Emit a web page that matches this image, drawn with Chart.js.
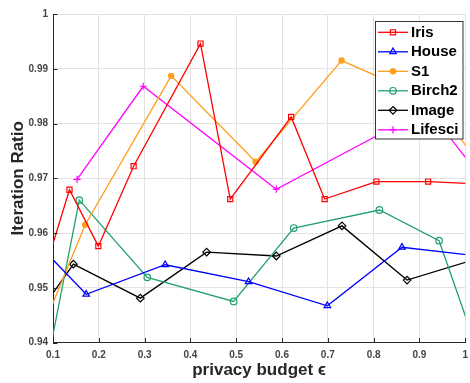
<!DOCTYPE html>
<html>
<head>
<meta charset="utf-8">
<script src="https://cdn.jsdelivr.net/npm/chart.js@4.4.1/dist/chart.umd.min.js"></script>
<style>
  html, body { margin: 0; padding: 0; background: #ffffff; overflow: hidden; }
  #wrap { width: 470px; height: 383px; overflow: hidden; position: relative; }
  canvas { display: block; }
</style>
</head>
<body>
<div id="wrap"><canvas id="chart" width="475" height="383"></canvas></div>
<script>
// Axis ticks
const xTickValues = [0.1, 0.2, 0.3, 0.4, 0.5, 0.6, 0.7, 0.8, 0.9, 1.0];
const xTickLabels = ['0.1', '0.2', '0.3', '0.4', '0.5', '0.6', '0.7', '0.8', '0.9', '1'];
const yTickValues = [0.94, 0.95, 0.96, 0.97, 0.98, 0.99, 1.0];
const yTickLabels = ['0.94', '0.95', '0.96', '0.97', '0.98', '0.99', '1'];

// Series (privacy budget epsilon -> iteration ratio)
const seriesNames = ['Iris', 'House', 'S1', 'Birch2', 'Image', 'Lifesci'];

const irisEps = [0.07, 0.136, 0.199, 0.276, 0.422, 0.487, 0.62, 0.693, 0.806, 0.919, 1.10];
const irisRatio = [0.9499, 0.9679, 0.9576, 0.9722, 0.9946, 0.9662, 0.9812, 0.9662, 0.9694, 0.9694, 0.9687];

const houseEps = [0.0, 0.1725, 0.345, 0.527, 0.699, 0.862, 1.04];
const houseRatio = [0.9638, 0.9488, 0.9542, 0.9511, 0.9467, 0.9574, 0.9557];

const s1Eps = [-0.02, 0.1703, 0.358, 0.5424, 0.730, 0.934, 1.12];
const s1Ratio = [0.9228, 0.9615, 0.9887, 0.9730, 0.9915, 0.9840, 0.9617];

const birch2Eps = [0.0, 0.1574, 0.3058, 0.4944, 0.6256, 0.8127, 0.943, 1.12];
const birch2Ratio = [0.8986, 0.9660, 0.9519, 0.9475, 0.9609, 0.9642, 0.9586, 0.9161];

const imageEps = [0.0, 0.1445, 0.2907, 0.4355, 0.5875, 0.731, 0.873, 1.05];
const imageRatio = [0.9371, 0.9543, 0.9481, 0.9565, 0.9558, 0.9613, 0.9514, 0.9559];

const lifesciEps = [0.1525, 0.297, 0.5875, 0.918, 1.15];
const lifesciRatio = [0.9698, 0.9868, 0.9680, 0.9827, 0.9576];

const FONT = "'Liberation Sans', Arial, Helvetica, sans-serif";

function pts(xs, ys) { return xs.map((x, i) => ({ x: x, y: ys[i] })); }

const styles = [
  { color: '#ff0000', shape: 'rect',     r: 3.6, fill: false },
  { color: '#0000ff', shape: 'triangle', r: 3.8, fill: false },
  { color: '#ff9f1c', shape: 'circle',   r: 2.6, fill: true  },
  { color: '#23a070', shape: 'circle',   r: 3.3, fill: false },
  { color: '#000000', shape: 'rectRot',  r: 3.8, fill: false },
  { color: '#ff00ff', shape: 'cross',    r: 3.6, fill: false }
];

const seriesData = [
  pts(irisEps, irisRatio),
  pts(houseEps, houseRatio),
  pts(s1Eps, s1Ratio),
  pts(birch2Eps, birch2Ratio),
  pts(imageEps, imageRatio),
  pts(lifesciEps, lifesciRatio)
];

const datasets = seriesNames.map((name, i) => ({
  label: name,
  data: seriesData[i],
  borderColor: styles[i].color,
  backgroundColor: 'rgba(255,255,255,0)',
  borderWidth: 1.3,
  pointStyle: styles[i].shape,
  pointRadius: styles[i].r,
  pointHoverRadius: styles[i].r,
  pointBorderWidth: 1.2,
  pointBorderColor: styles[i].color,
  pointBackgroundColor: styles[i].fill ? styles[i].color : 'rgba(255,255,255,0)',
  tension: 0,
  clip: 0
}));

// Marker drawing for the legend box
function drawMarker(ctx, shape, x, y, r, color, fill) {
  ctx.save();
  ctx.strokeStyle = color;
  ctx.fillStyle = color;
  ctx.lineWidth = 1.2;
  ctx.beginPath();
  if (shape === 'rect') {
    const s = r * Math.SQRT1_2;
    ctx.rect(x - s, y - s, 2 * s, 2 * s);
  } else if (shape === 'triangle') {
    let a = 0;
    ctx.moveTo(x + Math.sin(a) * r, y - Math.cos(a) * r);
    a += 2 * Math.PI / 3;
    ctx.lineTo(x + Math.sin(a) * r, y - Math.cos(a) * r);
    a += 2 * Math.PI / 3;
    ctx.lineTo(x + Math.sin(a) * r, y - Math.cos(a) * r);
    ctx.closePath();
  } else if (shape === 'circle') {
    ctx.arc(x, y, r, 0, Math.PI * 2);
  } else if (shape === 'rectRot') {
    ctx.moveTo(x, y - r); ctx.lineTo(x + r, y); ctx.lineTo(x, y + r); ctx.lineTo(x - r, y); ctx.closePath();
  } else if (shape === 'cross') {
    ctx.moveTo(x - r, y); ctx.lineTo(x + r, y);
    ctx.moveTo(x, y - r); ctx.lineTo(x, y + r);
  }
  if (fill) ctx.fill();
  ctx.stroke();
  ctx.restore();
}

// Inner tick marks along the left and bottom axes
const innerTicks = {
  id: 'innerTicks',
  afterDatasetsDraw(chart) {
    const { ctx, chartArea: a, scales } = chart;
    ctx.save();
    ctx.strokeStyle = '#262626';
    ctx.lineWidth = 1;
    ctx.beginPath();
    scales.x.ticks.forEach(t => {
      const px = Math.round(scales.x.getPixelForValue(t.value)) + 0.5;
      ctx.moveTo(px, a.bottom); ctx.lineTo(px, a.bottom - 4.5);
    });
    scales.y.ticks.forEach(t => {
      const py = Math.round(scales.y.getPixelForValue(t.value)) + 0.5;
      ctx.moveTo(a.left, py); ctx.lineTo(a.left + 4.5, py);
    });
    ctx.stroke();
    ctx.restore();
  }
};

// Boxed legend in the upper right of the plot
const boxLegend = {
  id: 'boxLegend',
  afterDraw(chart) {
    const ctx = chart.ctx;
    const bx = 375.5, by = 21.5, bw = 87.5, bh = 117.5;
    ctx.save();
    ctx.fillStyle = '#ffffff';
    ctx.fillRect(bx, by, bw, bh);
    ctx.strokeStyle = '#333333';
    ctx.lineWidth = 1;
    ctx.strokeRect(bx, by, bw, bh);
    ctx.font = "bold 15px " + FONT;
    ctx.textBaseline = 'middle';
    ctx.textAlign = 'left';
    chart.data.datasets.forEach((ds, i) => {
      const y = 32.3 + i * 19.5;
      const st = styles[i];
      ctx.strokeStyle = st.color;
      ctx.lineWidth = 1.3;
      ctx.beginPath();
      ctx.moveTo(378, y); ctx.lineTo(408, y);
      ctx.stroke();
      drawMarker(ctx, st.shape, 393, y, st.r, st.color, st.fill);
      ctx.fillStyle = '#000000';
      ctx.fillText(ds.label, 411, y + 0.5);
    });
    ctx.restore();
  }
};

new Chart(document.getElementById('chart'), {
  type: 'line',
  data: { datasets: datasets },
  options: {
    responsive: false,
    animation: false,
    events: [],
    layout: { padding: { top: 14, right: 4, left: 0, bottom: 0 } },
    plugins: { legend: { display: false }, tooltip: { enabled: false } },
    scales: {
      x: {
        type: 'linear',
        min: 0.1,
        max: 1.0,
        afterBuildTicks: s => { s.ticks = xTickValues.map(v => ({ value: v })); },
        afterFit: s => { s.height = 40.5; },
        ticks: {
          autoSkip: false,
          maxRotation: 0,
          padding: 7,
          color: '#444444',
          font: { family: FONT, size: 10, weight: 'bold' },
          callback: (v, i) => xTickLabels[i]
        },
        grid: { color: '#e2e2e2', lineWidth: 1, drawTicks: false },
        border: { color: '#262626', width: 1 },
        title: {
          display: true,
          text: 'privacy budget \u03f5',
          color: '#262626',
          font: { family: FONT, size: 17, weight: 'bold' },
          padding: { top: 0, bottom: 2 }
        }
      },
      y: {
        type: 'linear',
        min: 0.94,
        max: 1.0,
        afterBuildTicks: s => { s.ticks = yTickValues.map(v => ({ value: v })); },
        afterFit: s => { s.width = 53; },
        ticks: {
          autoSkip: false,
          padding: 5,
          color: '#444444',
          font: { family: FONT, size: 10, weight: 'bold' },
          callback: (v, i) => yTickLabels[i]
        },
        grid: { color: '#e2e2e2', lineWidth: 1, drawTicks: false },
        border: { color: '#262626', width: 1 },
        title: {
          display: true,
          text: 'Iteration Ratio',
          color: '#262626',
          font: { family: FONT, size: 17, weight: 'bold' },
          padding: { top: 8, bottom: 0 }
        }
      }
    }
  },
  plugins: [innerTicks, boxLegend]
});
</script>
</body>
</html>
